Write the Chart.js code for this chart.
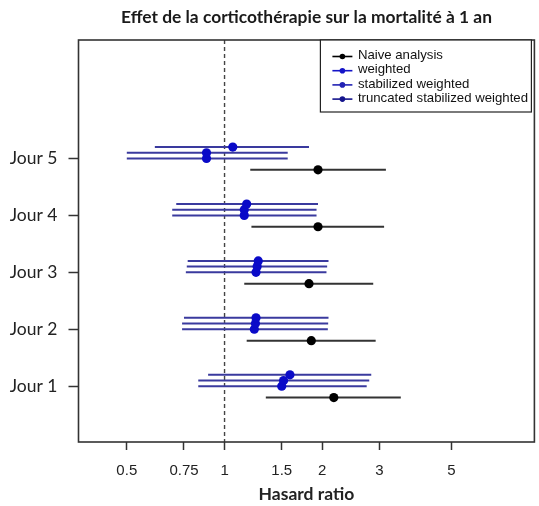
<!DOCTYPE html>
<html>
<head>
<meta charset="utf-8">
<script src="https://cdn.jsdelivr.net/npm/chart.js@4.4.1/dist/chart.umd.min.js"></script>
<style>
  html, body { margin: 0; padding: 0; background: #fff; }
  #wrap { width: 539px; height: 506px; }
</style>
</head>
<body>
<div id="wrap"><canvas id="forest" width="539" height="506"></canvas></div>
<script>
// Forest plot: corticotherapy effect on 1-year mortality

const chartTitle = 'Effet de la corticothérapie sur la mortalité à 1 an';
const days = [1, 2, 3, 4, 5];
const dayLabels = ['Jour 1', 'Jour 2', 'Jour 3', 'Jour 4', 'Jour 5'];
const xTicks = [0.5, 0.75, 1, 1.5, 2, 3, 5];

// Hazard ratios with 95% CI (Jour 1 .. Jour 5)
const naiveEst = [2.17, 1.85, 1.82, 1.94, 1.94];
const naiveLo = [1.34, 1.17, 1.15, 1.21, 1.20];
const naiveHi = [3.49, 2.92, 2.87, 3.10, 3.14];

const weightedEst = [1.59, 1.25, 1.27, 1.17, 1.06];
const weightedLo = [0.89, 0.75, 0.77, 0.71, 0.61];
const weightedHi = [2.83, 2.09, 2.09, 1.94, 1.82];

const stabEst = [1.52, 1.245, 1.26, 1.15, 0.88];
const stabLo = [0.83, 0.74, 0.765, 0.69, 0.50];
const stabHi = [2.79, 2.085, 2.07, 1.92, 1.565];

const truncEst = [1.50, 1.235, 1.25, 1.15, 0.88];
const truncLo = [0.83, 0.74, 0.76, 0.69, 0.50];
const truncHi = [2.74, 2.08, 2.06, 1.92, 1.565];

// vertical offset of each series inside a day group
const offsets = [-0.2, 0.2, 0.1, 0];

function makeSet(label, est, lo, hi, off, pointColor, lineColor, legendColor) {
  return {
    label: label,
    data: est.map((v, i) => ({ x: v, y: days[i] + off })),
    lo: lo,
    hi: hi,
    off: off,
    lineColor: lineColor,
    legendColor: legendColor,
    backgroundColor: pointColor,
    borderColor: pointColor,
    pointRadius: 4.6,
    pointHoverRadius: 4.6,
    borderWidth: 0,
    showLine: false
  };
}

const datasets = [
  makeSet('Naive analysis', naiveEst, naiveLo, naiveHi, offsets[0], '#000000', '#333333', '#000000'),
  makeSet('weighted', weightedEst, weightedLo, weightedHi, offsets[1], '#0a0ac8', '#3a3a9e', '#1414c8'),
  makeSet('stabilized weighted', stabEst, stabLo, stabHi, offsets[2], '#0a0ac8', '#3a3a9e', '#2222b4'),
  makeSet('truncated stabilized weighted', truncEst, truncLo, truncHi, offsets[3], '#0a0ac8', '#3a3a9e', '#14148c')
];

// CI segments, reference line, frame, title and legend
const forestLines = {
  id: 'forestLines',
  beforeDatasetsDraw(chart) {
    const { ctx, chartArea: ca, scales } = chart;
    const xs = scales.x, ys = scales.y;
    ctx.save();
    // dashed line at HR = 1
    const x1 = xs.getPixelForValue(1);
    ctx.strokeStyle = '#444';
    ctx.lineWidth = 1.4;
    ctx.setLineDash([4, 3]);
    ctx.beginPath();
    ctx.moveTo(x1, ca.top);
    ctx.lineTo(x1, ca.bottom);
    ctx.stroke();
    ctx.setLineDash([]);
    // confidence intervals
    chart.data.datasets.forEach(ds => {
      ctx.strokeStyle = ds.lineColor;
      ctx.lineWidth = 2;
      days.forEach((d, i) => {
        const y = ys.getPixelForValue(d + ds.off);
        ctx.beginPath();
        ctx.moveTo(xs.getPixelForValue(ds.lo[i]), y);
        ctx.lineTo(xs.getPixelForValue(ds.hi[i]), y);
        ctx.stroke();
      });
    });
    // plot frame
    ctx.strokeStyle = '#333';
    ctx.lineWidth = 1.6;
    ctx.strokeRect(ca.left, ca.top, ca.right - ca.left, ca.bottom - ca.top);
    ctx.restore();
  },
  afterDraw(chart) {
    const { ctx, chartArea: ca } = chart;
    ctx.save();
    // title
    ctx.fillStyle = '#1a1a1a';
    ctx.font = 'bold 17.4px Lato';
    ctx.textAlign = 'center';
    ctx.textBaseline = 'middle';
    ctx.fillText(chartTitle, (ca.left + ca.right) / 2, 17);
    // legend box
    const bw = 211, bh = 72;
    const bx = ca.right - bw - 3, by = ca.top;
    ctx.fillStyle = '#fff';
    ctx.fillRect(bx, by, bw, bh);
    ctx.strokeStyle = '#222';
    ctx.lineWidth = 1.2;
    ctx.strokeRect(bx, by, bw, bh);
    ctx.font = '13.2px "Liberation Sans", Arial, sans-serif';
    ctx.textAlign = 'left';
    chart.data.datasets.forEach((ds, i) => {
      const y = by + 16.5 + i * 14.2;
      ctx.strokeStyle = ds.legendColor;
      ctx.lineWidth = 1.6;
      ctx.beginPath();
      ctx.moveTo(bx + 12, y);
      ctx.lineTo(bx + 32, y);
      ctx.stroke();
      ctx.fillStyle = ds.legendColor;
      ctx.beginPath();
      ctx.arc(bx + 22, y, 2.8, 0, Math.PI * 2);
      ctx.fill();
      ctx.fillStyle = '#111';
      ctx.fillText(ds.label, bx + 37.5, y - 1);
    });
    ctx.restore();
  }
};

new Chart(document.getElementById('forest'), {
  type: 'scatter',
  data: { datasets: datasets },
  options: {
    responsive: false,
    animation: false,
    layout: { padding: { top: 40, right: 3.5, bottom: 0, left: 0 } },
    plugins: {
      legend: { display: false },
      tooltip: { enabled: false },
      title: { display: false }
    },
    scales: {
      x: {
        type: 'logarithmic',
        min: 0.355,
        max: 9.0,
        afterBuildTicks: s => { s.ticks = xTicks.map(v => ({ value: v })); },
        afterFit: s => { s.height = 64; },
        border: { display: false },
        grid: { drawOnChartArea: false, drawTicks: true, tickLength: 8, tickColor: '#333', tickWidth: 1.5 },
        ticks: {
          autoSkip: false,
          maxRotation: 0,
          padding: 12,
          color: '#222',
          font: { family: '"Liberation Sans", Arial, sans-serif', size: 15 },
          callback: v => String(v)
        },
        title: {
          display: true,
          text: 'Hasard ratio',
          color: '#222',
          font: { family: 'Lato', size: 17.5, weight: 'bold' },
          padding: { top: 0, bottom: 1 }
        }
      },
      y: {
        type: 'linear',
        min: 0.02,
        max: 7.08,
        afterBuildTicks: s => { s.ticks = days.map(v => ({ value: v })); },
        afterFit: s => { s.width = 78.5; },
        border: { display: false },
        grid: { drawOnChartArea: false, drawTicks: true, tickLength: 10, tickColor: '#333', tickWidth: 1.5 },
        ticks: {
          padding: 11,
          color: '#222',
          font: { family: 'Lato', size: 17.5 },
          callback: (v, i) => dayLabels[i]
        }
      }
    }
  },
  plugins: [forestLines]
});
</script>
</body>
</html>
